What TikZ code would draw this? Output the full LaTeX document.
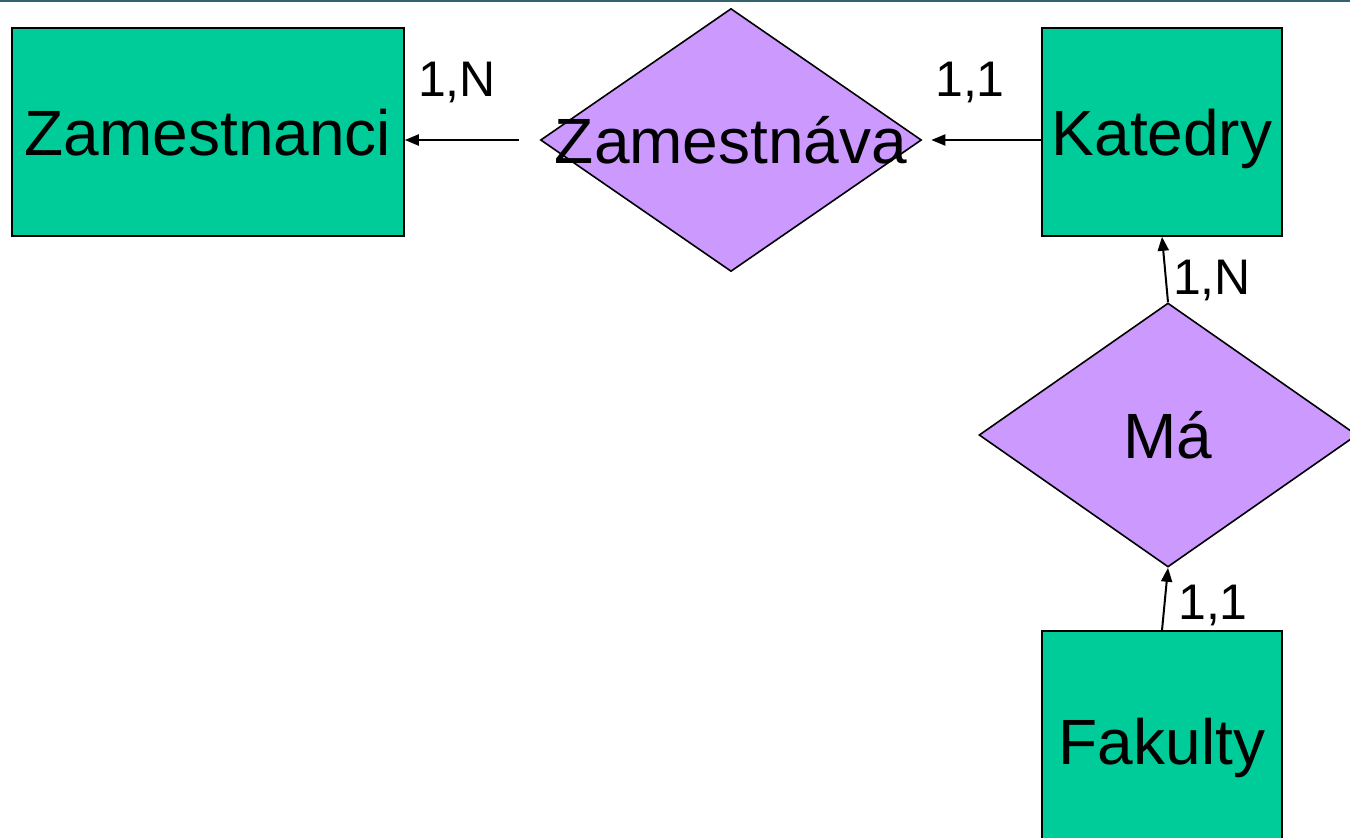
\documentclass[tikz,border=0pt]{standalone}
\usepackage{fontspec}
\setmainfont{Liberation Sans}
\usetikzlibrary{shapes.geometric, arrows.meta}

\definecolor{entgreen}{RGB}{0,204,153}
\definecolor{relpurple}{RGB}{204,153,255}
\definecolor{topline}{RGB}{52,98,110}

\begin{document}
\begin{tikzpicture}[x=0.5pt, y=-0.5pt, font=\fontsize{32}{38}\selectfont]
    \tikzstyle{entity} = [draw, rectangle, fill=entgreen, line width=0.8pt, inner sep=0, text depth=0pt];
    \tikzstyle{rel} = [draw, diamond, fill=relpurple, line width=0.8pt, inner sep=0];
    \tikzstyle{card} = [font=\fontsize{25}{30}\selectfont, inner sep=0];
    \tikzstyle{link} = [line width=1pt, -{Triangle[length=7pt, width=5.5pt]}];

    \clip (0, 0) rectangle (1350, 837);
    \fill[white] (0, 0) rectangle (1350, 837);
    \draw[topline, line width=1.2pt] (0, 1) -- (1350, 1);

    \node[entity, minimum width=196pt, minimum height=104pt] at (208, 132) (zam) {Zamestnanci};
    \node[rel, minimum width=190.5pt, minimum height=131.5pt, label=center:Zamestnáva] at (731, 140) (zav) {};
    \node[entity, minimum width=120pt, minimum height=104pt] at (1162, 132) (kat) {Katedry};
    \node[rel, minimum width=189pt, minimum height=132pt] at (1168, 435) (ma) {Má};
    \node[entity, minimum width=120pt, minimum height=110pt] at (1162, 741) (fak) {Fakulty};

    \draw[link, shorten <=10.5pt] (zav.west) -- (zav.west -| zam.east);
    \draw[link, shorten >=4.5pt] (zav.east -| kat.west) -- (zav.east);
    \draw[link] (ma.north) -- (kat.south);
    \draw[link] (fak.north) -- (ma.south);

    \node[card] at (457, 82) (c1) {1,N};
    \node[card] at (970, 82) (c2) {1,1};
    \node[card] at (1212, 280) (c3) {1,N};
    \node[card] at (1213, 605) (c4) {1,1};
\end{tikzpicture}
\end{document}
